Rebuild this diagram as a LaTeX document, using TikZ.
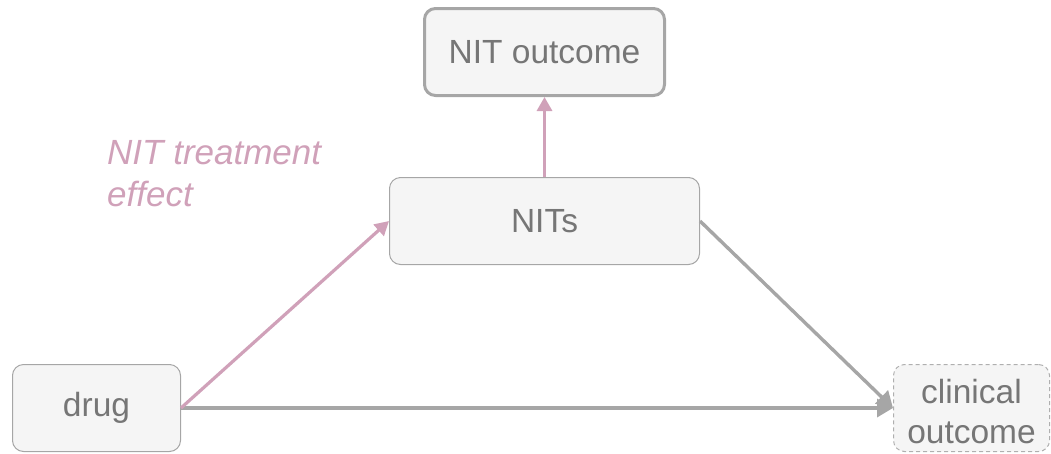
\documentclass[tikz,border=0pt]{standalone}
\usepackage{fontspec}
\setmainfont{Liberation Sans}
\usetikzlibrary{arrows.meta}
\definecolor{txtgray}{RGB}{118,118,118}
\definecolor{boxfill}{RGB}{245,245,245}
\definecolor{boxline}{RGB}{166,166,166}
\definecolor{dashline}{RGB}{175,175,175}
\definecolor{pinkc}{RGB}{208,161,185}
\definecolor{arrgray}{RGB}{166,166,166}
\tikzset{
  box/.style={draw=boxline, fill=boxfill, rounded corners=11pt, line width=1pt,
    text=txtgray, font=\fontsize{33.5}{40}\selectfont, align=center, inner sep=0pt},
  pinkarrow/.style={draw=pinkc, line width=3.2pt, -{Triangle[length=14pt,width=15pt]}},
  grayarrow/.style={draw=arrgray, line width=3.4pt, -{Triangle[length=16pt,width=18pt]}}
}
\begin{document}
\begin{tikzpicture}[x=1pt,y=-1pt]
\useasboundingbox (0,0) rectangle (1051,453);
\node[box, line width=3pt, minimum width=240pt, minimum height=87pt] (nitout) at (544.5,52) {NIT outcome};
\node[box, minimum width=310pt, minimum height=87pt] (nits) at (544.5,221) {NITs};
\node[box, minimum width=168pt, minimum height=87pt] (drug) at (96.5,408) {drug};
\node[box, draw=dashline, dashed, dash pattern=on 4pt off 3pt, minimum width=156pt, minimum height=87pt] (clin) at (971.5,408) {\rule{0pt}{31pt}clinical\\outcome};
\node[anchor=north west, inner sep=0pt, text=pinkc, align=left,
  font=\fontsize{35}{42}\selectfont\itshape] (label) at (107,140) {NIT treatment\\effect};
\draw[grayarrow] (drug.east) -- (clin.west);
\draw[grayarrow] (nits.east) -- (clin.west);
\draw[pinkarrow] (drug.east) -- (nits.west);
\draw[pinkarrow] (nits.north) -- (nitout.south);
\end{tikzpicture}
\end{document}
